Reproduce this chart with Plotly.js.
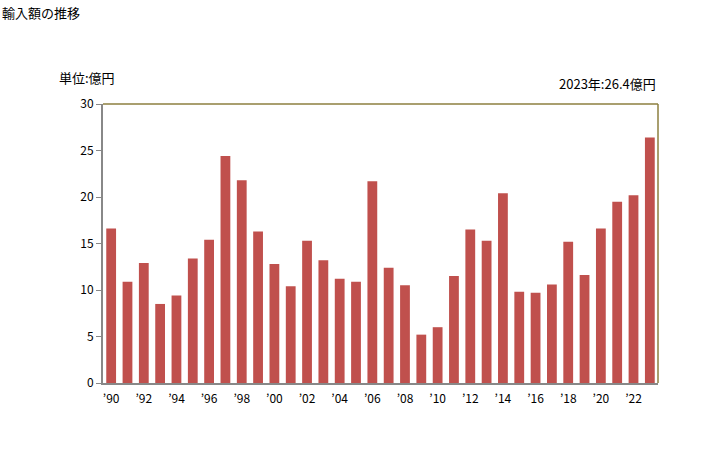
<!DOCTYPE html>
<html>
<head>
<meta charset="utf-8">
<script src="https://cdn.plot.ly/plotly-3.0.1.min.js"></script>
<style>body{margin:0;padding:0;background:#fff}</style>
</head>
<body>
<div id="chart" style="width:728px;height:450px"></div>
<script>
const years = [1990,1991,1992,1993,1994,1995,1996,1997,1998,1999,2000,2001,2002,2003,2004,2005,2006,2007,2008,2009,2010,2011,2012,2013,2014,2015,2016,2017,2018,2019,2020,2021,2022,2023];
const values = [16.6,10.9,12.9,8.5,9.4,13.4,15.4,24.4,21.8,16.3,12.8,10.4,15.3,13.2,11.2,10.9,21.7,12.4,10.5,5.2,6.0,11.5,16.5,15.3,20.4,9.8,9.7,10.6,15.2,11.6,16.6,19.5,20.2,26.4];
const tickYears = [1990,1992,1994,1996,1998,2000,2002,2004,2006,2008,2010,2012,2014,2016,2018,2020,2022];
const tickLabels = ["’90","’92","’94","’96","’98","’00","’02","’04","’06","’08","’10","’12","’14","’16","’18","’20","’22"];
const yTicks = [0,5,10,15,20,25,30];

const font = {family: "'Noto Sans CJK JP', 'DejaVu Sans', sans-serif", size: 12, color: '#000'};

Plotly.newPlot('chart', [{
  type: 'bar',
  x: years,
  y: values,
  width: 0.6,
  marker: {color: '#C0504D'},
  hoverinfo: 'skip'
}], {
  width: 728, height: 450,
  margin: {l: 103, r: 70, t: 104, b: 67, pad: 0},
  paper_bgcolor: '#fff', plot_bgcolor: '#fff',
  font: font,
  showlegend: false,
  xaxis: {
    type: 'linear',
    range: [1989.5, 2023.5],
    tickmode: 'array', tickvals: tickYears, ticktext: tickLabels,
    ticks: 'outside', ticklen: 4, tickcolor: 'rgba(0,0,0,0)', showgrid: false, zeroline: false,
    showline: true, linecolor: '#888', linewidth: 2,
    tickfont: {family: font.family, size: 12, color: '#000'},
    fixedrange: true
  },
  yaxis: {
    range: [0, 30],
    tickmode: 'array', tickvals: yTicks,
    ticks: 'outside', ticklen: 5, tickcolor: '#888', tickwidth: 1,
    showgrid: false, zeroline: false,
    showline: true, linecolor: '#888', linewidth: 2,
    tickfont: {family: font.family, size: 12, color: '#000'},
    fixedrange: true
  },
  shapes: [
    {type: 'line', xref: 'paper', yref: 'paper', x0: 0, x1: 1, y0: 1, y1: 1, line: {color: '#8c7f3f', width: 1.5}},
    {type: 'line', xref: 'paper', yref: 'paper', x0: 1, x1: 1, y0: 0, y1: 1, line: {color: '#8c7f3f', width: 1.5}}
  ],
  annotations: [
    {text: '輸入額の推移', xref: 'paper', yref: 'paper', x: -103/555, y: 1 + 92/279, xanchor: 'left', yanchor: 'middle', showarrow: false, font: {family: font.family, size: 13, color: '#000'}},
    {text: '単位:億円', xref: 'paper', yref: 'paper', x: -46/555, y: 1 + 27/279, xanchor: 'left', yanchor: 'middle', showarrow: false, font: {family: font.family, size: 13, color: '#000'}},
    {text: '2023年:26.4億円', xref: 'paper', yref: 'paper', x: 1, y: 1 + 21/279, xanchor: 'right', yanchor: 'middle', showarrow: false, font: {family: font.family, size: 13, color: '#000'}}
  ]
}, {displayModeBar: false, staticPlot: true});
</script>
</body>
</html>
